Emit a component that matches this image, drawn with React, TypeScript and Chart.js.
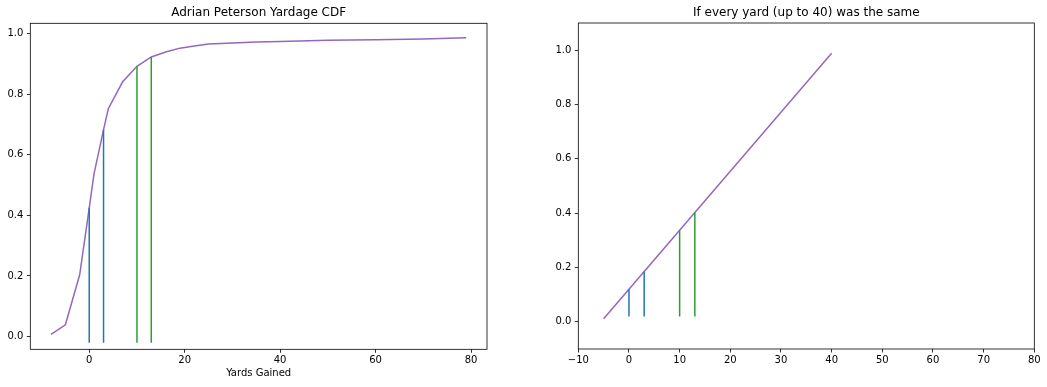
import React, { useEffect, useRef } from "react";
import { Chart, registerables } from "chart.js";

Chart.register(...registerables);

// ---------- data ----------
// Left: empirical CDF of Adrian Peterson's yards gained
const cdfYards = [-8, -5, -2, 0, 1, 3, 4, 7, 10, 13, 16, 19, 22, 25, 30, 35, 40, 50, 60, 70, 79];
const cdfValues = [0.007, 0.039, 0.204, 0.425, 0.537, 0.683, 0.752, 0.841, 0.892, 0.923, 0.939, 0.952, 0.959, 0.966, 0.969, 0.972, 0.974, 0.978, 0.98, 0.982, 0.986];

const leftBlueX = [0, 3];
const leftBlueTop = [0.425, 0.683];
const leftGreenX = [10, 13];
const leftGreenTop = [0.892, 0.923];
const leftVlineBottom = -0.02;

// Right: uniform CDF (every yard up to 40 the same)
const uniformYards = [-5, 40];
const uniformValues = [0.011, 0.989];
const rightBlueX = [0, 3];
const rightBlueTop = [0.12, 0.185];
const rightGreenX = [10, 13];
const rightGreenTop = [0.337, 0.402];
const rightVlineBottom = 0.02;

// ticks
const leftXTicks = [0, 20, 40, 60, 80];
const rightXTicks = [-10, 0, 10, 20, 30, 40, 50, 60, 70, 80];
const yTicks = [0, 0.2, 0.4, 0.6, 0.8, 1.0];

const leftTitle = "Adrian Peterson Yardage CDF";
const rightTitle = "If every yard (up to 40) was the same";
const leftXLabel = "Yards Gained";

// ---------- styling ----------
const PURPLE = "#9467bd";
const BLUE = "#1f77b4";
const GREEN = "#2ca02c";
const FONT = "'DejaVu Sans', sans-serif";

const framePlugin = {
  id: "frame",
  afterDraw(chart: any) {
    const { ctx, chartArea } = chart;
    ctx.save();
    ctx.strokeStyle = "#000";
    ctx.lineWidth = 0.8;
    ctx.strokeRect(chartArea.left, chartArea.top, chartArea.right - chartArea.left, chartArea.bottom - chartArea.top);
    ctx.restore();
  },
};

function vline(x: number, y0: number, y1: number, color: string) {
  return {
    type: "line",
    data: [
      { x, y: y0 },
      { x, y: y1 },
    ],
    borderColor: color,
    borderWidth: 1.5,
    pointRadius: 0,
    fill: false,
    order: 0,
  };
}

function minusFmt(v: number) {
  return v < 0 ? "\u2212" + Math.abs(v) : String(v);
}

type Cfg = {
  lineX: number[];
  lineY: number[];
  blueX: number[];
  blueTop: number[];
  greenX: number[];
  greenTop: number[];
  vBottom: number;
  xMin: number;
  xMax: number;
  yMin: number;
  yMax: number;
  xTicks: number[];
  title: string;
  xLabel?: string;
  yAxisWidth: number;
  xAxisHeight: number;
  padRight: number;
  titleTop: number;
  titleBottom: number;
};

function buildChart(canvas: HTMLCanvasElement, c: Cfg) {
  const datasets: any[] = [];
  c.blueX.forEach((x, i) => datasets.push(vline(x, c.vBottom, c.blueTop[i], BLUE)));
  c.greenX.forEach((x, i) => datasets.push(vline(x, c.vBottom, c.greenTop[i], GREEN)));
  datasets.push({
    type: "line",
    data: c.lineX.map((x, i) => ({ x, y: c.lineY[i] })),
    borderColor: PURPLE,
    borderWidth: 1.5,
    pointRadius: 0,
    fill: false,
    tension: 0,
    order: 1,
  });

  const tickFont = { family: FONT, size: 10 };
  const grid = {
    display: true,
    drawOnChartArea: false,
    drawTicks: true,
    tickLength: 3.5,
    color: "#000",
    lineWidth: 0.8,
  };

  return new Chart(canvas, {
    type: "line",
    data: { datasets },
    plugins: [framePlugin],
    options: {
      animation: false,
      responsive: false,
      maintainAspectRatio: false,
      layout: { padding: { left: 0, right: c.padRight, top: 0, bottom: 0 } },
      plugins: {
        legend: { display: false },
        tooltip: { enabled: false },
        title: {
          display: true,
          text: c.title,
          fullSize: false,
          color: "#000",
          font: { family: FONT, size: 12, weight: "normal" },
          padding: { top: c.titleTop, bottom: c.titleBottom },
        },
      },
      scales: {
        x: {
          type: "linear",
          min: c.xMin,
          max: c.xMax,
          border: { display: false },
          grid,
          ticks: {
            font: tickFont,
            color: "#000",
            padding: 1.7,
            maxRotation: 0,
            autoSkip: false,
            callback: (v: any) => minusFmt(Number(v)),
          },
          afterBuildTicks: (s: any) => {
            s.ticks = c.xTicks.map((v) => ({ value: v }));
          },
          afterFit: (s: any) => {
            s.height = c.xAxisHeight;
          },
          title: c.xLabel
            ? {
                display: true,
                text: c.xLabel,
                color: "#000",
                font: { family: FONT, size: 10 },
                padding: { top: 0, bottom: 7.5 },
              }
            : { display: false },
        },
        y: {
          type: "linear",
          min: c.yMin,
          max: c.yMax,
          border: { display: false },
          grid,
          ticks: {
            font: tickFont,
            color: "#000",
            padding: 3.5,
            autoSkip: false,
            callback: (v: any) => Number(v).toFixed(1),
          },
          afterBuildTicks: (s: any) => {
            s.ticks = yTicks.map((v) => ({ value: v }));
          },
          afterFit: (s: any) => {
            s.width = c.yAxisWidth;
          },
        },
      },
    } as any,
  });
}

export default function App() {
  const leftRef = useRef<HTMLCanvasElement>(null);
  const rightRef = useRef<HTMLCanvasElement>(null);

  useEffect(() => {
    const left = buildChart(leftRef.current!, {
      lineX: cdfYards,
      lineY: cdfValues,
      blueX: leftBlueX,
      blueTop: leftBlueTop,
      greenX: leftGreenX,
      greenTop: leftGreenTop,
      vBottom: leftVlineBottom,
      xMin: -12.35,
      xMax: 83.35,
      yMin: -0.042,
      yMax: 1.034,
      xTicks: leftXTicks,
      title: leftTitle,
      xLabel: leftXLabel,
      yAxisWidth: 30.3,
      xAxisHeight: 37.7,
      padRight: 36,
      titleTop: 5.85,
      titleBottom: 3.05,
    });
    const right = buildChart(rightRef.current!, {
      lineX: uniformYards,
      lineY: uniformValues,
      blueX: rightBlueX,
      blueTop: rightBlueTop,
      greenX: rightGreenX,
      greenTop: rightGreenTop,
      vBottom: rightVlineBottom,
      xMin: -10,
      xMax: 80,
      yMin: -0.1,
      yMax: 1.1,
      xTicks: rightXTicks,
      title: rightTitle,
      yAxisWidth: 55.3,
      xAxisHeight: 38,
      padRight: 12.7,
      titleTop: 5.85,
      titleBottom: 2.75,
    });
    return () => {
      left.destroy();
      right.destroy();
    };
  }, []);

  return (
    <div
      style={{
        position: "fixed",
        left: 0,
        top: 0,
        width: 1047,
        height: 387,
        background: "#fff",
        overflow: "hidden",
      }}
    >
      <canvas
        ref={leftRef}
        width={523}
        height={387}
        style={{ position: "absolute", left: 0, top: 0, width: 523, height: 387 }}
      />
      <canvas
        ref={rightRef}
        width={524}
        height={387}
        style={{ position: "absolute", left: 523, top: 0, width: 524, height: 387 }}
      />
    </div>
  );
}
